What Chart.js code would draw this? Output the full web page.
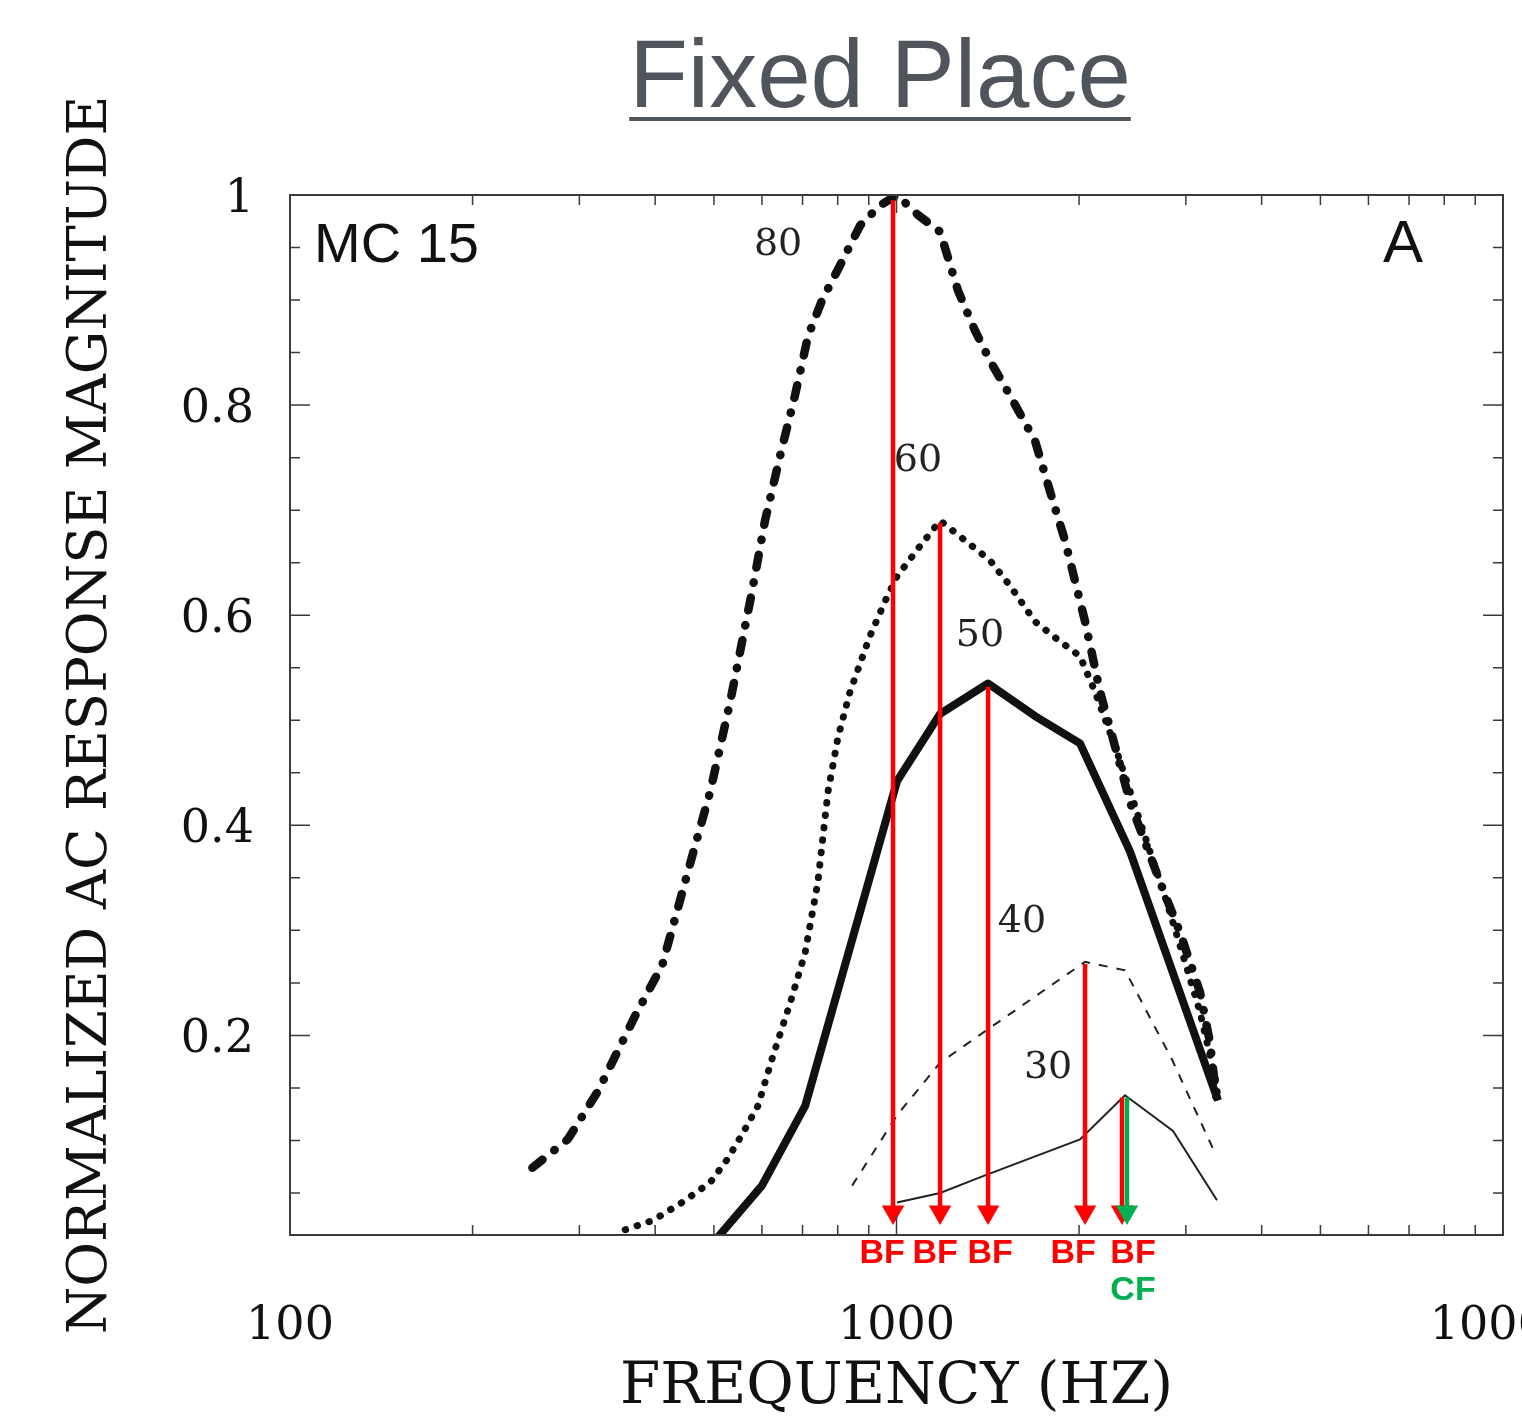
<!DOCTYPE html>
<html>
<head>
<meta charset="utf-8">
<script src="https://cdn.jsdelivr.net/npm/chart.js@4.4.1/dist/chart.umd.min.js"></script>
<style>
  body { margin: 0; background: #fff; }
  #wrap { width: 1522px; height: 1427px; position: relative; }
</style>
</head>
<body>
<div id="wrap"><canvas id="placeChart"></canvas></div>
<script>
// Curvas de respuesta (frecuencia en Hz, magnitud normalizada)
const freq80 = [251, 287, 322, 371, 411, 457, 493, 532, 578, 607, 643, 680, 715, 754, 807, 871, 939, 1002, 1085, 1180, 1263, 1347, 1427, 1539, 1692, 1791, 1896, 2046, 2166, 2293, 2427, 2569, 2720, 2934, 3166, 3288, 3376];
const val80  = [0.074, 0.101, 0.147, 0.219, 0.267, 0.364, 0.432, 0.518, 0.623, 0.690, 0.752, 0.809, 0.866, 0.900, 0.933, 0.971, 0.990, 1.000, 0.981, 0.965, 0.909, 0.871, 0.842, 0.809, 0.766, 0.718, 0.671, 0.594, 0.527, 0.475, 0.422, 0.384, 0.346, 0.298, 0.241, 0.193, 0.136];

const freq60 = [357, 397, 443, 493, 526, 558, 591, 626, 668, 707, 742, 771, 801, 838, 904, 957, 1002, 1094, 1180, 1273, 1427, 1539, 1692, 1861, 2007, 2125, 2293, 2474, 2618, 2772, 2990, 3166, 3351, 3389];
const val60  = [0.015, 0.024, 0.041, 0.060, 0.082, 0.107, 0.133, 0.181, 0.231, 0.279, 0.346, 0.432, 0.484, 0.527, 0.580, 0.613, 0.637, 0.666, 0.690, 0.675, 0.652, 0.628, 0.594, 0.575, 0.561, 0.527, 0.475, 0.418, 0.375, 0.332, 0.270, 0.222, 0.160, 0.141];

const freq50 = [506, 600, 707, 1002, 1180, 1416, 1692, 2007, 2427, 3389];
const val50  = [0.007, 0.057, 0.133, 0.442, 0.506, 0.535, 0.504, 0.478, 0.375, 0.138];

const freq40 = [845, 1002, 1180, 1416, 2046, 2381, 2846, 3351];
const val40  = [0.057, 0.124, 0.174, 0.206, 0.270, 0.262, 0.177, 0.088];

const freq30 = [1002, 1180, 1389, 2007, 2381, 2857, 3376];
const val30  = [0.041, 0.050, 0.066, 0.101, 0.143, 0.109, 0.043];

// Flechas BF / CF
const bfFreq = [987, 1180, 1416, 2046, 2354];
const bfTop  = [0.995, 0.688, 0.532, 0.268, 0.141];
const cfFreq = [2399];
const cfTop  = [0.141];
const arrowTip = 0.032;

const curveLabels = ['80', '60', '50', '40', '30'];
const xTickValues = [100, 1000, 10000];
const yTickValues = [0.2, 0.4, 0.6, 0.8, 1];

const toPoints = (fs, vs) => fs.map((f, i) => ({ x: f, y: vs[i] }));

function arrowSet(f, top, color) {
    return {
        data: [{ x: f, y: top }, { x: f, y: arrowTip }],
        borderColor: color,
        backgroundColor: color,
        borderWidth: 4.5,
        pointRadius: [0, 13],
        pointStyle: 'triangle',
        pointRotation: 180,
        pointBackgroundColor: color,
        pointBorderWidth: 0
    };
}

const datasets = [];
cfFreq.forEach((f, i) => datasets.push(arrowSet(f, cfTop[i], '#00b050')));
bfFreq.forEach((f, i) => datasets.push(arrowSet(f, bfTop[i], '#ff0000')));

datasets.push({ data: toPoints(freq80, val80), borderColor: '#111', borderWidth: 8.5, borderDash: [13, 15, 0.5, 15], borderCapStyle: 'round', pointRadius: 0 });
datasets.push({ data: toPoints(freq60, val60), borderColor: '#111', borderWidth: 7, borderDash: [0.5, 12], borderCapStyle: 'round', pointRadius: 0 });
datasets.push({ data: toPoints(freq50, val50), borderColor: '#111', borderWidth: 8, borderJoinStyle: 'round', pointRadius: 0 });
datasets.push({ data: toPoints(freq40, val40), borderColor: '#222', borderWidth: 2, borderDash: [9, 9], pointRadius: 0 });
datasets.push({ data: toPoints(freq30, val30), borderColor: '#222', borderWidth: 2, pointRadius: 0 });

// Marco, ticks interiores y textos
const decor = {
    id: 'decor',
    afterDraw(chart) {
        const { ctx, chartArea: a, scales: { x, y } } = chart;
        ctx.save();

        ctx.strokeStyle = '#3a3a3a';
        ctx.lineWidth = 2;
        ctx.strokeRect(a.left, a.top, a.right - a.left, a.bottom - a.top);

        ctx.lineWidth = 1.5;
        ctx.beginPath();
        for (let k = 1; k < 20; k++) {
            const v = k * 0.05;
            const py = y.getPixelForValue(v);
            const len = k % 4 === 0 ? 20 : 10;
            ctx.moveTo(a.left, py); ctx.lineTo(a.left + len, py);
            ctx.moveTo(a.right, py); ctx.lineTo(a.right - len, py);
        }
        [100, 1000].forEach(dec => {
            for (let m = 1; m < 10; m++) {
                if (dec === 100 && m === 1) continue;
                const px = x.getPixelForValue(dec * m);
                const len = m === 1 ? 18 : 10;
                ctx.moveTo(px, a.bottom); ctx.lineTo(px, a.bottom - len);
                ctx.moveTo(px, a.top); ctx.lineTo(px, a.top + len);
            }
        });
        ctx.stroke();

        // Titulo subrayado
        ctx.fillStyle = '#50555b';
        ctx.font = '96px "Liberation Sans", Arial, sans-serif';
        ctx.textAlign = 'center';
        ctx.textBaseline = 'alphabetic';
        ctx.fillText('Fixed Place', 880, 107);
        const tw = ctx.measureText('Fixed Place').width;
        ctx.fillRect(880 - tw / 2, 117, tw, 4);

        ctx.fillStyle = '#111';
        ctx.font = '56px "Liberation Sans", Arial, sans-serif';
        ctx.textAlign = 'left';
        ctx.fillText('MC 15', a.left + 24, 262);
        ctx.font = '60px "Liberation Sans", Arial, sans-serif';
        ctx.fillText('A', a.right - 120, 262);

        // Etiquetas de nivel junto a las curvas
        const labelAt = [[638, 0.952], [1085, 0.747], [1373, 0.580], [1610, 0.308], [1778, 0.169]];
        ctx.font = '38px "DejaVu Serif", serif';
        ctx.fillStyle = '#222';
        ctx.textAlign = 'center';
        ctx.textBaseline = 'middle';
        curveLabels.forEach((t, i) => {
            ctx.fillText(t, x.getPixelForValue(labelAt[i][0]), y.getPixelForValue(labelAt[i][1]));
        });

        // BF / CF bajo el eje
        const bfShift = [-11, -5, 2, -12, 11];
        ctx.font = 'bold 34px "Liberation Sans", Arial, sans-serif';
        ctx.fillStyle = '#ff0000';
        bfFreq.forEach((f, i) => {
            ctx.fillText('BF', x.getPixelForValue(f) + bfShift[i], a.bottom + 19);
        });
        ctx.fillStyle = '#00b050';
        cfFreq.forEach(f => {
            ctx.fillText('CF', x.getPixelForValue(f) + 6, a.bottom + 56);
        });

        ctx.restore();
    }
};

new Chart(document.getElementById('placeChart').getContext('2d'), {
    type: 'line',
    data: { datasets: datasets },
    options: {
        responsive: true,
        maintainAspectRatio: false,
        animation: false,
        events: [],
        layout: { padding: { left: 0, right: 19, top: 195, bottom: 0 } },
        elements: { line: { tension: 0 } },
        plugins: { legend: { display: false }, tooltip: { enabled: false } },
        scales: {
            x: {
                type: 'logarithmic',
                min: 100,
                max: 10000,
                afterBuildTicks: s => { s.ticks = xTickValues.map(v => ({ value: v })); },
                afterFit: s => { s.height = 192; s.paddingLeft = 0; s.paddingRight = 0; },
                grid: { display: false, drawTicks: false },
                border: { display: false },
                ticks: {
                    autoSkip: false, maxRotation: 0, padding: 64, color: '#111',
                    font: { family: '"DejaVu Serif", serif', size: 46 },
                    callback: v => String(v)
                },
                title: {
                    display: true, text: 'FREQUENCY (HZ)', color: '#111',
                    font: { family: '"DejaVu Serif", serif', size: 58 },
                    padding: { top: 0, bottom: 4 }
                }
            },
            y: {
                min: 0.01,
                max: 1,
                afterBuildTicks: s => { s.ticks = yTickValues.map(v => ({ value: v })); },
                afterFit: s => { s.width = 290; s.paddingTop = 0; s.paddingBottom = 0; },
                grid: { display: false, drawTicks: false },
                border: { display: false },
                ticks: {
                    padding: 36, color: '#111', labelOffset: 5,
                    font: { family: '"DejaVu Serif", serif', size: 46 },
                    callback: v => String(v)
                },
                title: {
                    display: true, text: 'NORMALIZED AC RESPONSE MAGNITUDE', color: '#111',
                    font: { family: '"DejaVu Serif", serif', size: 54.5 },
                    padding: { top: 59, bottom: 0 }
                }
            }
        }
    },
    plugins: [decor]
});
</script>
</body>
</html>
